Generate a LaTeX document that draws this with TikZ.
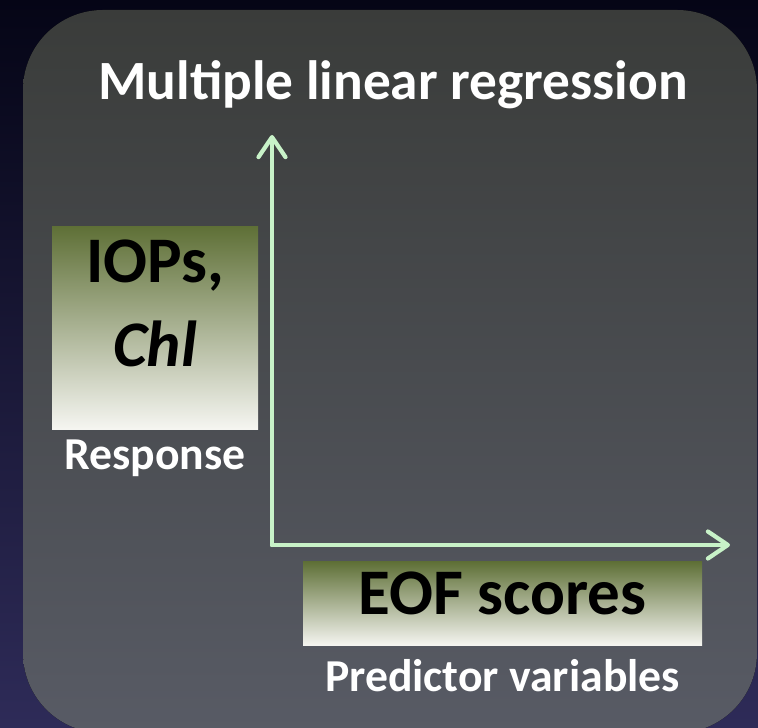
\documentclass[tikz,border=0pt]{standalone}
\usepackage{fontspec}
\setmainfont{Carlito}
\usetikzlibrary{positioning, arrows.meta}
\definecolor{bgtop}{RGB}{5,5,22}
\definecolor{bgbottom}{RGB}{46,43,88}
\definecolor{paneltop}{RGB}{58,60,58}
\definecolor{panelbottom}{RGB}{88,91,101}
\definecolor{axiscolor}{RGB}{200,242,200}
\definecolor{boxtop}{RGB}{95,112,55}
\definecolor{boxbottom}{RGB}{246,246,242}

\begin{document}
\begin{tikzpicture}[
    varbox/.style={rectangle, top color=boxtop, bottom color=boxbottom, inner sep=0pt},
    boxtext/.style={font=\fontsize{37}{48}\selectfont\bfseries, text=black, align=center, inner sep=0pt},
    titletext/.style={font=\fontsize{31.5}{36}\selectfont\bfseries, text=white, inner sep=0pt},
    axislabel/.style={font=\fontsize{26}{30}\selectfont\bfseries, text=white, inner sep=0pt},
    axis/.style={draw=axiscolor, line width=2.4pt, line cap=round, -{Straight Barb[length=4mm, width=5.4mm, round]}},
    node distance=0.1cm
]

    % Background and panel
    \useasboundingbox (0,0) rectangle (15.16,14.56);
    \fill[top color=bgtop, bottom color=bgbottom] (0,0) rectangle (15.16,14.56);
    \fill[top color=paneltop, bottom color=panelbottom, rounded corners=1.6cm] (0.46,-0.1) rectangle (15.14,14.36);

    % Title
    \node[titletext, anchor=base] (title) at (7.86,12.56) {Multiple linear regression};

    % Axes
    \coordinate (origin) at (5.44,3.66);
    \coordinate (ytip) at (5.44,11.86);
    \coordinate (xtip) at (14.6,3.66);
    \draw[axis] (origin) -- (ytip);
    \draw[axis] (origin) -- (xtip);

    % Response
    \node[varbox, minimum width=4.12cm, minimum height=4.06cm] (iops) at (3.10,7.99) {};
    \node[boxtext, below=0.26cm of iops.north] (iopstext) {IOPs,\\\textit{Chl}};
    \node[axislabel, below=0.18cm of iops] (response) {Response};

    % Predictors
    \node[varbox, minimum width=7.98cm, minimum height=1.68cm] (eof) at (10.05,2.48) {};
    \node[boxtext, below=0.2cm of eof.north] (eoftext) {EOF scores};
    \node[axislabel, below=0.26cm of eof] (predictor) {Predictor variables};

\end{tikzpicture}
\end{document}
